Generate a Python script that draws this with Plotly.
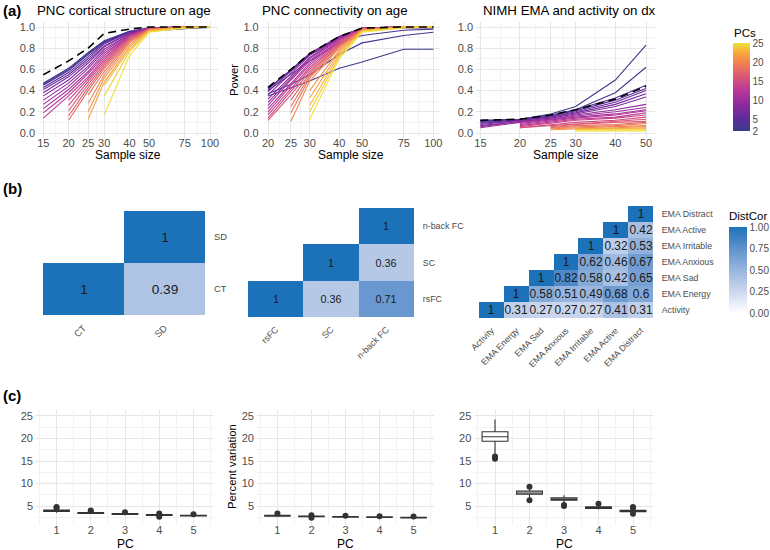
import math
import plotly.graph_objects as go
from plotly.colors import sample_colorscale

W, H = 770, 550

# ---------------- data: panel (a) ----------------
pcs = list(range(2, 26))
struct_n = [15, 20, 25, 30, 40, 50, 75, 100]
conn_n = [20, 25, 30, 40, 50, 75, 100]
ema_n = [15, 20, 25, 30, 40, 50]

struct_power = [
    [0.47, 0.61, 0.76, 0.87, 0.96, 0.96, 0.985, 0.995],
    [0.46, 0.60, 0.75, 0.86, 0.96, 0.99, 1.0, 1.0],
    [0.45, 0.59, 0.74, 0.86, 0.95, 0.99, 1.0, 1.0],
    [0.43, 0.57, 0.72, 0.85, 0.95, 0.99, 1.0, 1.0],
    [0.41, 0.55, 0.70, 0.84, 0.95, 0.99, 1.0, 1.0],
    [0.38, 0.53, 0.68, 0.82, 0.94, 0.99, 1.0, 1.0],
    [0.35, 0.50, 0.66, 0.81, 0.94, 0.99, 1.0, 1.0],
    [0.31, 0.47, 0.63, 0.79, 0.93, 0.99, 1.0, 1.0],
    [0.27, 0.44, 0.61, 0.77, 0.93, 0.99, 1.0, 1.0],
    [0.23, 0.41, 0.58, 0.75, 0.92, 0.99, 1.0, 1.0],
    [0.19, 0.38, 0.56, 0.73, 0.92, 0.99, 1.0, 1.0],
    [0.14, 0.35, 0.53, 0.71, 0.91, 0.98, 1.0, 1.0],
    [None, 0.31, 0.51, 0.69, 0.91, 0.98, 1.0, 1.0],
    [None, 0.26, 0.48, 0.67, 0.90, 0.98, 1.0, 1.0],
    [None, 0.21, 0.46, 0.65, 0.89, 0.98, 1.0, 1.0],
    [None, 0.16, 0.43, 0.63, 0.88, 0.98, 1.0, 1.0],
    [None, 0.12, 0.40, 0.61, 0.87, 0.98, 1.0, 1.0],
    [None, None, 0.36, 0.58, 0.86, 0.97, 1.0, 1.0],
    [None, None, 0.28, 0.55, 0.85, 0.97, 1.0, 1.0],
    [None, None, 0.20, 0.52, 0.83, 0.97, 1.0, 1.0],
    [None, None, 0.13, 0.48, 0.81, 0.97, 1.0, 1.0],
    [None, None, None, 0.45, 0.79, 0.96, 0.99, 1.0],
    [None, None, None, 0.35, 0.77, 0.96, 0.99, 1.0],
    [None, None, None, 0.17, 0.73, 0.95, 0.99, 1.0],
]
struct_reference = [0.55, 0.68, 0.80, 0.94, 0.98, 1.0, 1.0, 1.0]

conn_power = [
    [0.35, 0.43, 0.49, 0.61, 0.67, 0.79, 0.79],
    [0.37, 0.46, 0.55, 0.74, 0.85, 0.92, 0.95],
    [0.40, 0.55, 0.68, 0.85, 0.92, 0.97, 0.98],
    [0.42, 0.59, 0.74, 0.90, 0.98, 0.99, 0.99],
    [0.41, 0.60, 0.75, 0.91, 0.99, 1.0, 1.0],
    [0.39, 0.58, 0.74, 0.91, 0.99, 1.0, 1.0],
    [0.36, 0.56, 0.73, 0.90, 0.99, 1.0, 1.0],
    [0.32, 0.54, 0.71, 0.90, 0.99, 1.0, 1.0],
    [0.29, 0.52, 0.70, 0.89, 0.99, 1.0, 1.0],
    [0.26, 0.50, 0.68, 0.89, 0.99, 1.0, 1.0],
    [0.23, 0.47, 0.66, 0.88, 0.99, 1.0, 1.0],
    [0.20, 0.45, 0.64, 0.87, 0.99, 1.0, 1.0],
    [0.17, 0.42, 0.62, 0.86, 0.98, 1.0, 1.0],
    [0.14, 0.39, 0.60, 0.85, 0.98, 1.0, 1.0],
    [0.12, 0.36, 0.58, 0.84, 0.98, 1.0, 1.0],
    [None, 0.31, 0.56, 0.83, 0.98, 1.0, 1.0],
    [None, 0.25, 0.54, 0.82, 0.98, 1.0, 1.0],
    [None, 0.19, 0.52, 0.81, 0.98, 1.0, 1.0],
    [None, 0.11, 0.49, 0.80, 0.97, 1.0, 1.0],
    [None, None, 0.40, 0.78, 0.97, 1.0, 1.0],
    [None, None, 0.33, 0.76, 0.97, 1.0, 1.0],
    [None, None, 0.26, 0.74, 0.96, 1.0, 1.0],
    [None, None, 0.20, 0.72, 0.96, 1.0, 1.0],
    [None, None, 0.13, 0.70, 0.95, 0.99, 1.0],
]
conn_reference = [0.43, 0.60, 0.75, 0.91, 0.99, 1.0, 1.0]

ema_power = [
    [0.12, 0.13, 0.18, 0.25, 0.50, 0.83],
    [0.11, 0.13, 0.17, 0.22, 0.38, 0.62],
    [0.11, 0.13, 0.16, 0.22, 0.33, 0.45],
    [0.10, 0.12, 0.16, 0.21, 0.31, 0.42],
    [0.09, 0.12, 0.15, 0.20, 0.29, 0.40],
    [0.08, 0.12, 0.15, 0.19, 0.27, 0.37],
    [0.07, 0.11, 0.14, 0.18, 0.25, 0.34],
    [0.06, 0.11, 0.13, 0.17, 0.22, 0.27],
    [0.05, 0.10, 0.13, 0.16, 0.20, 0.24],
    [None, 0.09, 0.12, 0.15, 0.18, 0.22],
    [None, 0.08, 0.11, 0.14, 0.17, 0.21],
    [None, 0.07, 0.10, 0.13, 0.15, 0.19],
    [None, 0.06, 0.09, 0.12, 0.14, 0.17],
    [None, 0.05, 0.08, 0.10, 0.12, 0.15],
    [None, 0.05, 0.07, 0.09, 0.11, 0.13],
    [None, None, 0.06, 0.08, 0.10, 0.11],
    [None, None, 0.05, 0.07, 0.08, 0.10],
    [None, None, 0.05, 0.06, 0.07, 0.09],
    [None, None, 0.04, 0.05, 0.06, 0.07],
    [None, None, 0.03, 0.04, 0.05, 0.06],
    [None, None, None, 0.04, 0.04, 0.05],
    [None, None, None, 0.03, 0.04, 0.04],
    [None, None, None, 0.03, 0.03, 0.03],
    [None, None, None, 0.02, 0.02, 0.02],
]
ema_reference = [0.12, 0.13, 0.17, 0.22, 0.32, 0.44]

struct_ticks = [15, 20, 25, 30, 40, 50, 75, 100]
conn_ticks = [20, 25, 30, 40, 50, 75, 100]
ema_ticks = [15, 20, 25, 30, 40, 50]
power_ticks = [0, 0.2, 0.4, 0.6, 0.8, 1.0]
pc_legend_ticks = [2, 5, 10, 15, 20, 25]

# ---------------- data: panel (b) ----------------
hm1_labels = ["CT", "SD"]
hm1_values = [[1, 0.39], [None, 1]]
hm2_labels = ["rsFC", "SC", "n-back FC"]
hm2_values = [[1, 0.36, 0.71], [None, 1, 0.36], [None, None, 1]]
hm3_labels = ["Activity", "EMA Energy", "EMA Sad", "EMA Anxious",
              "EMA Irritable", "EMA Active", "EMA Distract"]
hm3_values = [
    [1, 0.31, 0.27, 0.27, 0.27, 0.41, 0.31],
    [None, 1, 0.58, 0.51, 0.49, 0.68, 0.6],
    [None, None, 1, 0.82, 0.58, 0.42, 0.65],
    [None, None, None, 1, 0.62, 0.46, 0.67],
    [None, None, None, None, 1, 0.32, 0.53],
    [None, None, None, None, None, 1, 0.42],
    [None, None, None, None, None, None, 1],
]
distcor_ticks = [0, 0.25, 0.5, 0.75, 1.0]

# ---------------- data: panel (c) ----------------
pc_idx = [1, 2, 3, 4, 5]
box1_low = [3.5, 3.2, 3.0, 2.75, 2.65]
box1_q1 = [3.8, 3.35, 3.1, 2.9, 2.8]
box1_med = [3.95, 3.45, 3.2, 3.0, 2.9]
box1_q3 = [4.1, 3.55, 3.3, 3.1, 2.95]
box1_high = [4.4, 3.75, 3.45, 3.25, 3.1]
box1_out_pc = [1, 1, 2, 2, 3, 4, 4, 5]
box1_out_val = [4.8, 4.6, 4.0, 3.9, 3.6, 3.35, 2.6, 3.15]

box2_low = [2.6, 2.45, 2.4, 2.35, 2.25]
box2_q1 = [2.75, 2.6, 2.52, 2.47, 2.37]
box2_med = [2.85, 2.68, 2.6, 2.55, 2.43]
box2_q3 = [2.95, 2.75, 2.67, 2.6, 2.5]
box2_high = [3.1, 2.9, 2.8, 2.72, 2.6]
box2_out_pc = [1, 2, 2, 3, 4, 5]
box2_out_val = [3.35, 2.95, 2.4, 2.85, 2.75, 2.65]

box3_low = [16.4, 6.8, 5.6, 4.2, 3.5]
box3_q1 = [19.4, 7.6, 6.3, 4.45, 3.75]
box3_med = [20.4, 7.9, 6.55, 4.6, 3.9]
box3_q3 = [21.5, 8.3, 6.85, 4.8, 4.05]
box3_high = [24.2, 9.0, 7.4, 5.2, 4.4]
box3_out_pc = [1, 1, 1, 2, 2, 3, 3, 4, 5, 5, 5]
box3_out_val = [15.5, 15.8, 16.0, 9.3, 6.3, 5.0, 5.2, 5.5, 4.8, 4.6, 3.3]
pct_ticks = [5, 10, 15, 20, 25]

# ---------------- styling ----------------
FONT = "Liberation Sans, Arial, sans-serif"
TICK_COL = "#4D4D4D"
GRID = "#E6E6E6"
GRID_MINOR = "#F2F2F2"
AX_TITLE = 11.3

pc_scale = [
    [0.00, "#3B3A8C"], [0.13, "#5A2D9A"], [0.30, "#8E2A9E"],
    [0.45, "#B7359A"], [0.60, "#D65279"], [0.75, "#EE7B57"],
    [0.88, "#F9A53D"], [1.00, "#EEE23A"],
]
dist_scale = [
    [0.0, "#FFFFFF"], [0.25, "#CCD8EE"], [0.5, "#98B5DE"],
    [0.75, "#5F92CC"], [1.0, "#1C72B8"],
]


def xd(a, b):
    return [a / W, b / W]


def yd(top, bottom):
    return [1 - bottom / H, 1 - top / H]


def pc_color(pc):
    return sample_colorscale(pc_scale, [(pc - 2) / 23])[0]


def geo_mid(t):
    return [math.sqrt(a * b) for a, b in zip(t[:-1], t[1:])]


fig = go.Figure()

# ---- panel (a) lines ----
line_sets = [
    (struct_n, struct_power, struct_reference, "x", "y"),
    (conn_n, conn_power, conn_reference, "x2", "y2"),
    (ema_n, ema_power, ema_reference, "x3", "y3"),
]
for n, power, ref, xa, ya in line_sets:
    for pc, vals in zip(pcs, power):
        fig.add_trace(go.Scatter(x=n, y=vals, mode="lines", xaxis=xa, yaxis=ya,
                                 line=dict(color=pc_color(pc), width=1.1),
                                 hoverinfo="skip", showlegend=False))
    fig.add_trace(go.Scatter(x=n, y=ref, mode="lines", xaxis=xa, yaxis=ya,
                             line=dict(color="black", width=1.6, dash="8px,5px"),
                             hoverinfo="skip", showlegend=False))

# colorbar for PCs (title drawn as annotation)
fig.add_trace(go.Scatter(
    x=[20, 20], y=[5, 5], mode="markers", xaxis="x", yaxis="y",
    marker=dict(color=[2, 25], cmin=2, cmax=25, colorscale=pc_scale, size=1,
                showscale=True,
                colorbar=dict(
                    x=733 / W, xanchor="left", xref="paper",
                    y=1 - 43 / H, yanchor="top", yref="paper",
                    len=88, lenmode="pixels", thickness=17, thicknessmode="pixels",
                    tickvals=pc_legend_ticks, ticks="", outlinewidth=0,
                    tickfont=dict(size=10, family=FONT, color=TICK_COL),
                    xpad=0, ypad=0)),
    hoverinfo="skip", showlegend=False))

# ---- panel (b) heatmaps ----
def txt(m):
    return [["" if v is None else f"{v:g}" for v in row] for row in m]


hm_sets = [
    (hm1_labels, hm1_values, "x4", "y4", 13.7, False),
    (hm2_labels, hm2_values, "x5", "y5", 10.8, False),
    (hm3_labels, hm3_values, "x6", "y6", 11.9, True),
]
for labels, vals, xa, ya, fs, show in hm_sets:
    fig.add_trace(go.Heatmap(
        x=labels, y=labels, z=vals, text=txt(vals), texttemplate="%{text}",
        textfont=dict(size=fs, family=FONT, color="#1A1A1A"),
        zmin=0, zmax=1, colorscale=dist_scale, xaxis=xa, yaxis=ya,
        hoverongaps=False, hoverinfo="skip", showscale=show,
        colorbar=dict(
            x=729 / W, xanchor="left", xref="paper",
            y=1 - 227 / H, yanchor="top", yref="paper",
            len=86, lenmode="pixels", thickness=18, thicknessmode="pixels",
            tickvals=distcor_ticks, ticktext=[f"{v:.2f}" for v in distcor_ticks],
            ticks="", outlinewidth=0,
            tickfont=dict(size=10, family=FONT, color=TICK_COL),
            xpad=0, ypad=0) if show else None))

# ---- panel (c) boxes ----
box_sets = [
    (box1_low, box1_q1, box1_med, box1_q3, box1_high, box1_out_pc, box1_out_val, "x7", "y7"),
    (box2_low, box2_q1, box2_med, box2_q3, box2_high, box2_out_pc, box2_out_val, "x8", "y8"),
    (box3_low, box3_q1, box3_med, box3_q3, box3_high, box3_out_pc, box3_out_val, "x9", "y9"),
]
for lo, q1, med, q3, hi, opc, oval, xa, ya in box_sets:
    fig.add_trace(go.Box(x=pc_idx, q1=q1, median=med, q3=q3, lowerfence=lo, upperfence=hi,
                         xaxis=xa, yaxis=ya, fillcolor="white", width=0.75, whiskerwidth=0,
                         line=dict(color="#333333", width=1.1), boxpoints=False,
                         hoverinfo="skip", showlegend=False))
    fig.add_trace(go.Scatter(x=opc, y=oval, mode="markers", xaxis=xa, yaxis=ya,
                             marker=dict(color="#333333", size=6),
                             hoverinfo="skip", showlegend=False))

# ---- axes ----
tickfont = dict(size=11, family=FONT, color=TICK_COL)
layout = dict(
    width=W, height=H, margin=dict(l=0, r=0, t=0, b=0, autoexpand=False),
    paper_bgcolor="white", plot_bgcolor="white", showlegend=False,
    font=dict(family=FONT, color="black"),
)


def log_x(dom, rng, ticks):
    return dict(domain=xd(*dom), type="log", range=rng, tickvals=ticks,
                ticktext=[str(t) for t in ticks], tickfont=tickfont,
                showgrid=True, gridcolor=GRID, gridwidth=1, zeroline=False,
                showline=False, ticks="", ticklabelstandoff=-3, automargin=False,
                minor=dict(tickvals=geo_mid(ticks), showgrid=True,
                           gridcolor=GRID_MINOR, gridwidth=0.7, ticks=""))


def power_y(anchor):
    return dict(domain=yd(21.7, 138.3), range=[-0.05, 1.05], tickvals=power_ticks,
                ticktext=[f"{t:.1f}" for t in power_ticks], tickfont=tickfont,
                showgrid=True, gridcolor=GRID, gridwidth=1, zeroline=False,
                ticks="", anchor=anchor, ticklabelstandoff=2, automargin=False,
                minor=dict(tickvals=[0.1, 0.3, 0.5, 0.7, 0.9], showgrid=True,
                           gridcolor=GRID_MINOR, gridwidth=0.7, ticks=""))


layout["xaxis"] = dict(log_x((38, 218), [1.1499, 2.0395], struct_ticks), anchor="y")
layout["yaxis"] = power_y("x")
layout["xaxis2"] = dict(log_x((261.7, 440), [1.2744, 2.0283], conn_ticks), anchor="y2")
layout["yaxis2"] = power_y("x2")
layout["xaxis3"] = dict(log_x((476, 655), [1.1622, 1.7274], ema_ticks), anchor="y3")
layout["yaxis3"] = power_y("x3")


def hm_x(dom, labels, anchor, fs):
    return dict(domain=xd(*dom), type="category", categoryarray=labels,
                categoryorder="array", tickangle=-45, showgrid=False, zeroline=False,
                showline=False, ticks="outside", ticklen=3, tickcolor="rgba(0,0,0,0)",
                automargin=False,
                tickfont=dict(size=fs, family=FONT, color=TICK_COL), anchor=anchor)


def hm_y(dom, labels, anchor, fs):
    return dict(domain=yd(*dom), type="category", categoryarray=labels,
                categoryorder="array", side="right", showgrid=False, zeroline=False,
                showline=False, ticks="outside", ticklen=6, tickcolor="rgba(0,0,0,0)",
                automargin=False,
                tickfont=dict(size=fs, family=FONT, color=TICK_COL), anchor=anchor)


layout["xaxis4"] = hm_x((43, 205), hm1_labels, "y4", 9.4)
layout["yaxis4"] = hm_y((211, 315), hm1_labels, "x4", 9.4)
layout["xaxis5"] = hm_x((248, 414), hm2_labels, "y5", 8.9)
layout["yaxis5"] = hm_y((208, 317), hm2_labels, "x5", 8.9)
layout["xaxis6"] = hm_x((479, 653), hm3_labels, "y6", 8.8)
layout["yaxis6"] = hm_y((206, 318), hm3_labels, "x6", 8.8)


def box_x(dom, anchor):
    return dict(domain=xd(*dom), range=[0.4, 5.6], tickvals=pc_idx, tickfont=tickfont,
                showgrid=True, gridcolor=GRID, gridwidth=1, zeroline=False, ticks="",
                anchor=anchor, ticklabelstandoff=-3, automargin=False,
                minor=dict(tickvals=[0.5, 1.5, 2.5, 3.5, 4.5, 5.5], showgrid=True,
                           gridcolor=GRID_MINOR, gridwidth=0.7, ticks=""))


def box_y(anchor):
    return dict(domain=yd(410, 525), range=[0.78, 26.33], tickvals=pct_ticks,
                tickfont=tickfont, showgrid=True, gridcolor=GRID, gridwidth=1,
                zeroline=False, ticks="", anchor=anchor, ticklabelstandoff=2,
                automargin=False,
                minor=dict(tickvals=[2.5, 7.5, 12.5, 17.5, 22.5], showgrid=True,
                           gridcolor=GRID_MINOR, gridwidth=0.7, ticks=""))


layout["xaxis7"] = box_x((36, 214), "y7")
layout["yaxis7"] = box_y("x7")
layout["xaxis8"] = box_x((257, 434), "y8")
layout["yaxis8"] = box_y("x8")
layout["xaxis9"] = box_x((474.3, 653.7), "y9")
layout["yaxis9"] = box_y("x9")

fig.update_layout(**layout)


def ann(text, x, y, size=AX_TITLE, xanchor="center", yanchor="middle", angle=0, bold=False):
    fig.add_annotation(text=f"<b>{text}</b>" if bold else text, x=x / W, y=1 - y / H,
                       xref="paper", yref="paper", xanchor=xanchor, yanchor=yanchor,
                       showarrow=False, textangle=angle,
                       font=dict(size=size, family=FONT, color="black"))


ann("(a)", 1, 10, size=15, xanchor="left", bold=True)
ann("(b)", 1, 188, size=15, xanchor="left", bold=True)
ann("(c)", 1, 395, size=15, xanchor="left", bold=True)
ann("PNC cortical structure on age", 35, 10, size=13.3, xanchor="left")
ann("PNC connectivity on age", 260, 10, size=13.3, xanchor="left")
ann("NIMH EMA and activity on dx", 481, 10, size=13.3, xanchor="left")
ann("Sample size", 128, 155, size=12)
ann("Sample size", 351, 155, size=12)
ann("Sample size", 566, 155, size=12)
ann("Power", 234, 80, size=AX_TITLE, angle=-90)
ann("Percent variation", 232, 467, size=AX_TITLE, angle=-90)
ann("PC", 125, 544, size=12)
ann("PC", 345, 544, size=12)
ann("PC", 564, 544, size=12)
ann("PCs", 732, 33, size=11.5, xanchor="left")
ann("DistCor", 727, 216, size=11.5, xanchor="left")

fig.write_html("out.html", config={"displayModeBar": False},
               post_script="document.body.style.margin='0px';")
